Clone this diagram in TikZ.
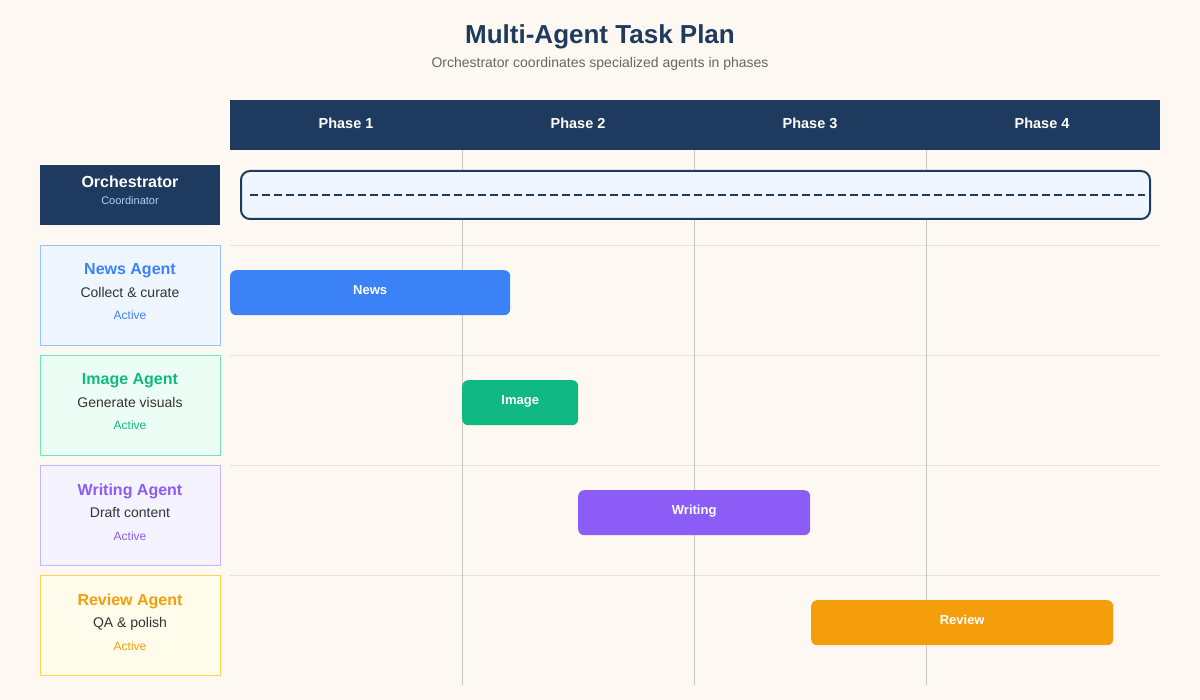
\documentclass[tikz,border=0pt]{standalone}
\usepackage{fontspec}
\setmainfont{Liberation Sans}
\usetikzlibrary{positioning}
\definecolor{navy}{HTML}{1E3A5F}
\definecolor{paper}{HTML}{FDF9F2}
\definecolor{gridline}{HTML}{C8C8C8}
\definecolor{rowline}{HTML}{E6E3DE}
\definecolor{newsc}{HTML}{3B82F6}
\definecolor{newsf}{HTML}{EFF6FF}
\definecolor{newsb}{HTML}{93C5FD}
\definecolor{imagec}{HTML}{10B981}
\definecolor{imagef}{HTML}{ECFDF5}
\definecolor{imageb}{HTML}{6EE7B7}
\definecolor{writingc}{HTML}{8B5CF6}
\definecolor{writingf}{HTML}{F5F3FF}
\definecolor{writingb}{HTML}{C4B5FD}
\definecolor{reviewc}{HTML}{F59E0B}
\definecolor{reviewf}{HTML}{FFFCEB}
\definecolor{reviewb}{HTML}{FCD34D}
\tikzset{
  agentbox/.style={draw,line width=1pt,minimum width=180pt,minimum height=100pt,anchor=north west,inner sep=0pt},
  taskbar/.style={rounded corners=6pt,minimum height=45pt,anchor=north west,inner sep=0pt},
  barlabel/.style={anchor=base,inner sep=0pt,text=white,font=\fontsize{13}{15}\selectfont\bfseries},
  phaselabel/.style={anchor=base,inner sep=0pt,text=white,font=\fontsize{14.5}{16}\selectfont\bfseries}
}
\begin{document}
\begin{tikzpicture}[x=1pt,y=-1pt,line join=round,font=\fontsize{14}{16}\selectfont]
\fill[paper] (0,0) rectangle (1200,700);
\useasboundingbox (0,0) rectangle (1200,700);
% title
\node[anchor=base,inner sep=0pt,text=navy,font=\fontsize{26}{30}\selectfont\bfseries] (title) at (600,44) {Multi-Agent Task Plan};
\node[anchor=base,inner sep=0pt,text=black!60,font=\fontsize{14}{16}\selectfont] (subtitle) at (600,68) {Orchestrator coordinates specialized agents in phases};
% phase header
\fill[navy] (230,100) rectangle (1160,150);
\foreach \i in {1,...,4}
  \node[phaselabel] (phase\i) at ({230+232*(\i-0.5)},128.3) {Phase \i};
% rows and phase lines
\foreach \y in {245,355,465,575}
  \draw[rowline] (230,\y)--(1160,\y);
\foreach \x in {462,694,926}
  \draw[gridline] (\x,150)--(\x,685);
% orchestrator
\node[fill=navy,minimum width=180pt,minimum height=60pt,anchor=north west,inner sep=0pt] (orch) at (40,165) {};
\node[anchor=base,inner sep=0pt,text=white,font=\fontsize{16}{18}\selectfont\bfseries] at (130,187.7) {Orchestrator};
\node[anchor=base,inner sep=0pt,text=newsb!80!white,font=\fontsize{11}{13}\selectfont] at (130,205) {Coordinator};
\draw[navy,fill=newsf,line width=2pt,rounded corners=9pt] (241,171) rectangle (1150,219);
\draw[navy,line width=2pt,dash pattern=on 8pt off 4pt] (250,195)--(1145,195);
% agents
\foreach \n/\t/\d/\y in {news/News Agent/Collect \& curate/245,image/Image Agent/Generate visuals/355,
    writing/Writing Agent/Draft content/465,review/Review Agent/QA \& polish/575}{
  \node[agentbox,draw=\n b,fill=\n f] (\n) at (40,\y) {};
  \node[anchor=base,inner sep=0pt,text=\n c,font=\fontsize{16}{18}\selectfont\bfseries] at (130,\y+30) {\t};
  \node[anchor=base,inner sep=0pt,text=black!80] at (130,\y+52.7) {\d};
  \node[anchor=base,inner sep=0pt,text=\n c,font=\fontsize{12}{14}\selectfont] at (130,\y+75) {Active};
}
% task bars
\node[taskbar,fill=newsc,minimum width=280pt] (newsbar) at (230,270) {};
\node[taskbar,fill=imagec,minimum width=116pt] (imagebar) at (462,380) {};
\node[taskbar,fill=writingc,minimum width=232pt] (writingbar) at (578,490) {};
\node[taskbar,fill=reviewc,minimum width=302pt] (reviewbar) at (811,600) {};
\foreach \b/\t in {newsbar/News,imagebar/Image,writingbar/Writing,reviewbar/Review}
  \node[barlabel] at ([yshift=-24.6pt]\b.north) {\t};
\end{tikzpicture}
\end{document}
